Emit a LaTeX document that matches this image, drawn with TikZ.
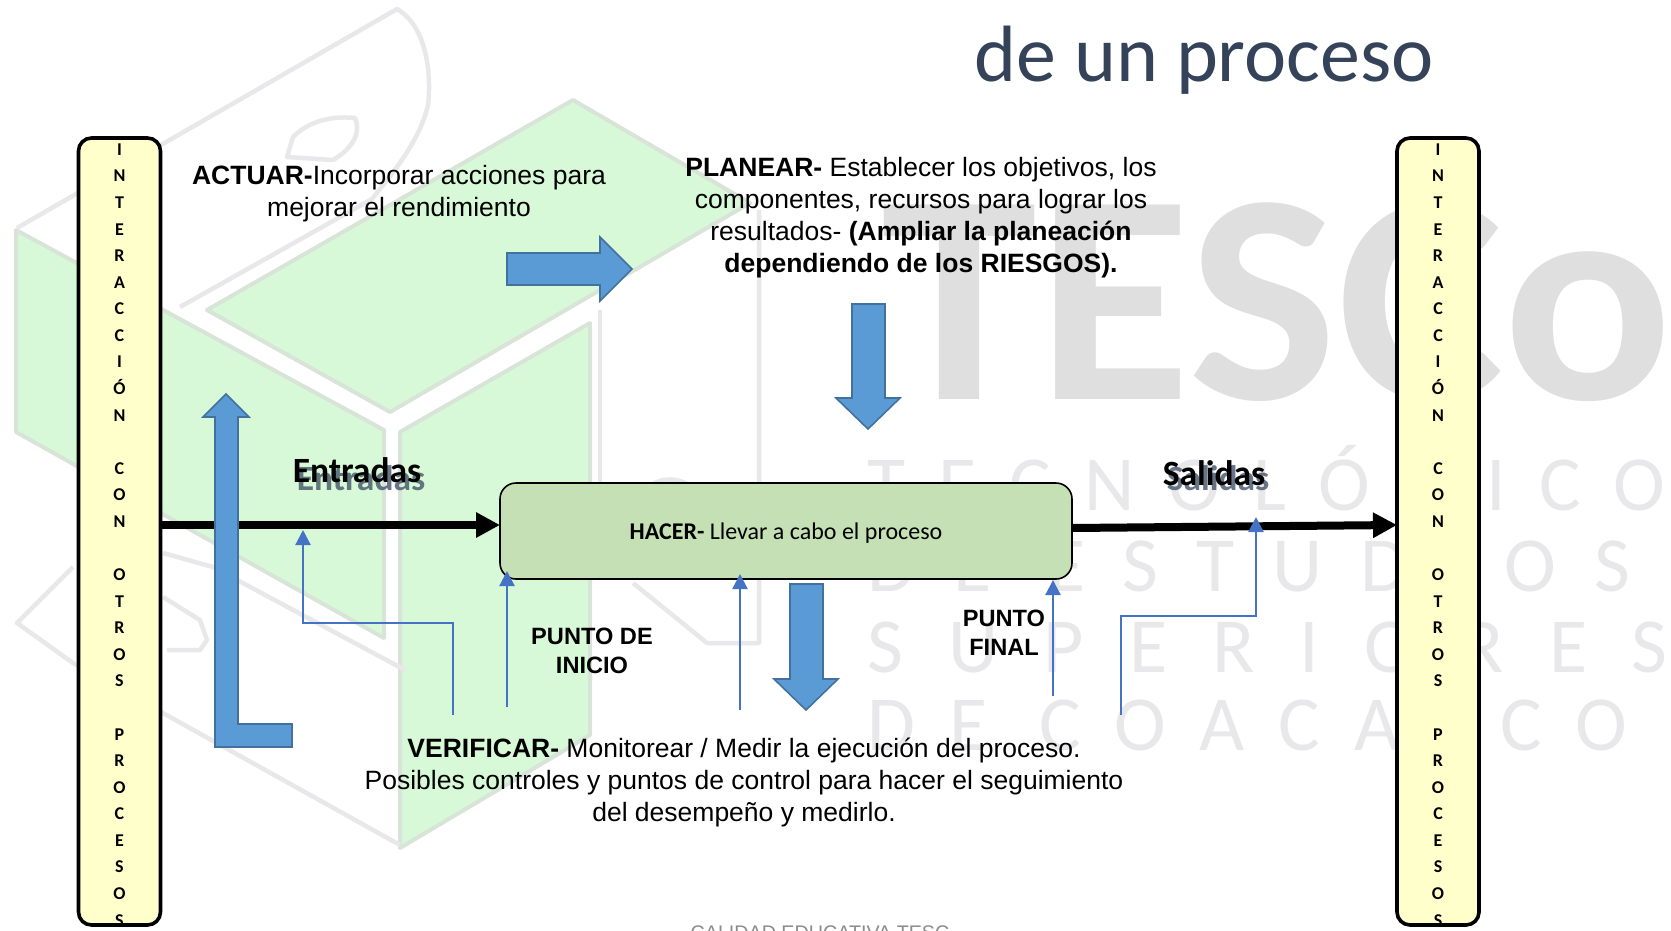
\documentclass[tikz,border=0pt]{standalone}
\usepackage{fontspec}
\usepackage{graphicx}
\setmainfont{Liberation Sans}
\newfontfamily\carlito{Carlito}
\usetikzlibrary{arrows.meta}
\definecolor{wmgreen}{HTML}{D7F9D7}
\definecolor{wmedge}{HTML}{D8E4D8}
\definecolor{wmline}{HTML}{E8E8EA}
\definecolor{wmtext}{HTML}{E8E8EA}
\definecolor{wmbig}{HTML}{DFDFE0}
\definecolor{blockblue}{HTML}{5B9BD5}
\definecolor{blockedge}{HTML}{41719C}
\definecolor{thinblue}{HTML}{4472C4}
\definecolor{sidefill}{HTML}{FFFFCC}
\definecolor{hacerfill}{HTML}{C5E0B4}
\definecolor{titlecol}{HTML}{34435A}
\definecolor{shadowcol}{HTML}{44546A}
\tikzset{
  greenface/.style={fill=wmgreen,draw=wmedge,line width=4pt,line join=round},
  wmoutline/.style={draw=wmline,line width=4.5pt,line join=round},
  wmrow/.style={anchor=base west,inner sep=0pt,text=wmtext,font=\carlito\fontsize{78}{78}\selectfont},
  bigarrow/.style={fill=blockblue,draw=blockedge,line width=1.6pt,line join=miter},
  sidebox/.style={draw=black,line width=3.6pt,fill=sidefill,rounded corners=13pt,minimum width=82pt,minimum height=787pt,inner sep=0pt},
  sidetext/.style={anchor=north,inner sep=0pt,align=center,font=\carlito\bfseries\fontsize{18}{26.58}\selectfont},
  hacerbox/.style={draw=black,line width=1.6pt,fill=hacerfill,rounded corners=16pt,minimum width=572pt,minimum height=96pt,inner sep=0pt,font=\carlito\fontsize{24}{26}\selectfont},
  bodytext/.style={anchor=north,inner sep=0pt,align=center,font=\fontsize{26.5}{32}\selectfont},
  puntotext/.style={anchor=north,inner sep=0pt,align=center,font=\bfseries\fontsize{23.6}{29}\selectfont},
  flowlabel/.style={anchor=base,inner sep=0pt,font=\carlito\bfseries\fontsize{35.5}{36}\selectfont},
  shadowlabel/.style={flowlabel,text=shadowcol,opacity=.8},
  mainflow/.style={draw=black,line width=8pt,-{Triangle[length=24pt,width=24pt]}},
  thinflow/.style={draw=thinblue,line width=2.2pt,-{Triangle[length=15pt,width=15pt]}}
}
\begin{document}
\begin{tikzpicture}[x=1pt,y=-1pt]
\clip (0,0) rectangle (1671,930);
\fill[white] (0,0) rectangle (1671,930);
% watermark: cube
\path[greenface] (573,100) -- (750,203) -- (390,412) -- (207,310) -- cycle;
\path[greenface] (16,230) -- (384,430) -- (384,638) -- (16,432) -- cycle;
\path[greenface] (400,432) -- (590,323) -- (590,735) -- (400,848) -- cycle;
% watermark: outlines
\path[wmoutline] (17,228) -- (397,9) .. controls (425,25) and (432,70) .. (428,105) .. controls (420,140) and (395,170) .. (372,199) -- (180,307);
\path[wmoutline] (293,137) .. controls (305,125) and (325,115) .. (355,118) .. controls (362,135) and (350,150) .. (333,160) -- (287,157) -- cycle;
\path[wmoutline] (73,567) -- (17,623) -- (73,663) -- (400,845);
\path[wmoutline] (163,553) -- (213,567) -- (405,670);
\path[wmoutline] (163,597) -- (200,620) -- (207,640) -- (200,650) -- (167,650);
\path[wmoutline] (600,310) -- (600,490);
\path[wmoutline] (759,210) -- (759,643) -- (707,643) -- (633,583);
\path[wmoutline] (645,492) .. controls (655,476) and (680,476) .. (692,488);
% watermark: lettering
\node[anchor=base west,inner sep=0pt,text=wmbig,font=\carlito\bfseries\fontsize{300}{300}\selectfont] (wmbigword) at (881,399) {\scalebox{1.05}[1]{TESCo}};
\node[wmrow] (wmrowa) at (867,510) {\addfontfeature{LetterSpace=43}TECNOLÓGICO};
\node[wmrow] (wmrowb) at (867,591) {\addfontfeature{LetterSpace=49}DE ESTUDIOS};
\node[wmrow] (wmrowc) at (867,672) {\addfontfeature{LetterSpace=58}SUPERIORES};
\node[wmrow] (wmrowd) at (867,750) {\addfontfeature{LetterSpace=44}DE COACALCO};
% title and footer
\node[anchor=base,inner sep=0pt,text=titlecol,font=\carlito\fontsize{79.9}{80}\selectfont] (title) at (1204,81) {de un proceso};
\node[anchor=north,inner sep=0pt,text=black!45,font=\fontsize{19.7}{22}\selectfont] (footer) at (820,926) {CALIDAD EDUCATIVA TESC};
% side boxes
\node[sidebox] (leftbox) at (119.5,531.5) {};
\node[sidebox] (rightbox) at (1438,531.5) {};
\node[sidetext] (lefttext) at (119.5,143.4) {I\\N\\T\\E\\R\\A\\C\\C\\I\\Ó\\N\\~\\C\\O\\N\\~\\O\\T\\R\\O\\S\\~\\P\\R\\O\\C\\E\\S\\O\\S};
\node[sidetext] (righttext) at (1438,143.4) {I\\N\\T\\E\\R\\A\\C\\C\\I\\Ó\\N\\~\\C\\O\\N\\~\\O\\T\\R\\O\\S\\~\\P\\R\\O\\C\\E\\S\\O\\S};
% central box
\node[hacerbox] (hacer) at (786,531) {\raisebox{-8pt}[0pt][0pt]{\textbf{HACER-} Llevar a cabo el proceso}};
% main flow
\coordinate (inflowa) at (161,525);
\coordinate (inflowb) at (500,525);
\coordinate (outflowa) at (1072,528);
\coordinate (outflowb) at (1397,525);
\draw[mainflow] (inflowa) -- (inflowb);
\draw[mainflow] (outflowa) -- (outflowb);
% block arrows
\path[bigarrow] (507,253) -- (600,253) -- (600,237) -- (632,269) -- (600,301) -- (600,285) -- (507,285) -- cycle;
\path[bigarrow] (852,304) -- (885,304) -- (885,398) -- (900,398) -- (868,429) -- (836,398) -- (852,398) -- cycle;
\path[bigarrow] (790,584) -- (823,584) -- (823,679) -- (838,679) -- (806,710) -- (774,679) -- (790,679) -- cycle;
\path[bigarrow] (226,394) -- (249,417) -- (238,417) -- (238,724) -- (292,724) -- (292,747) -- (215,747) -- (215,417) -- (203,417) -- cycle;
% thin arrows
\coordinate (ta) at (453,715); \coordinate (tb) at (453,623); \coordinate (tc) at (303,623); \coordinate (td) at (303,530);
\draw[thinflow] (ta) -- (tb) -- (tc) -- (td);
\coordinate (ua) at (507,707); \coordinate (ub) at (507,571);
\draw[thinflow] (ua) -- (ub);
\coordinate (va) at (740,710); \coordinate (vb) at (740,574);
\draw[thinflow] (va) -- (vb);
\coordinate (wa) at (1053,696); \coordinate (wb) at (1053,580);
\draw[thinflow] (wa) -- (wb);
\coordinate (xa) at (1121,715); \coordinate (xb) at (1121,616); \coordinate (xc) at (1256,616); \coordinate (xd) at (1256,517);
\draw[thinflow] (xa) -- (xb) -- (xc) -- (xd);
% labels
\node[shadowlabel] (entshadow) at (361,490) {Entradas};
\node[flowlabel] (entradas) at (357,482) {Entradas};
\node[shadowlabel] (salshadow) at (1218,490) {Salidas};
\node[flowlabel] (salidas) at (1214,485) {Salidas};
\node[bodytext] (actuar) at (399,165.5) {\textbf{ACTUAR-}Incorporar acciones para\\mejorar el rendimiento};
\node[bodytext] (planear) at (921,157.5) {\textbf{PLANEAR-} Establecer los objetivos, los\\componentes, recursos para lograr los\\resultados- \textbf{(Ampliar la planeación}\\\textbf{dependiendo de los RIESGOS).}};
\node[bodytext] (verificar) at (744,737.5) {\textbf{VERIFICAR-} Monitorear / Medir la ejecución del proceso.\\Posibles controles y puntos de control para hacer el seguimiento\\del desempeño y medirlo.};
\node[puntotext] (inicio) at (592,628) {PUNTO DE\\INICIO};
\node[puntotext] (final) at (1004,610) {PUNTO\\FINAL};
\end{tikzpicture}
\end{document}
